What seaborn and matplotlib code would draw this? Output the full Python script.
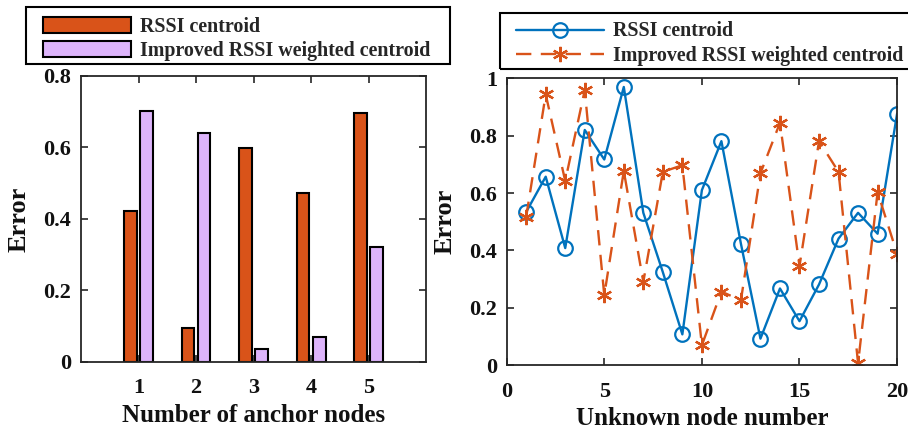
import numpy as np
import pandas as pd
import matplotlib
matplotlib.use("Agg")
import matplotlib.pyplot as plt
import seaborn as sns
from matplotlib.ticker import FuncFormatter
from matplotlib.patches import Rectangle

# ---------------- data ----------------
anchor_nodes = [1, 2, 3, 4, 5]
bar_rssi = [0.423, 0.095, 0.599, 0.472, 0.697]
bar_improved = [0.701, 0.640, 0.035, 0.070, 0.321]

node_numbers = list(range(1, 21))
line_rssi = [0.534, 0.657, 0.408, 0.820, 0.717, 0.970, 0.531, 0.324, 0.107, 0.610,
             0.781, 0.423, 0.092, 0.267, 0.153, 0.281, 0.441, 0.531, 0.458, 0.877]
line_improved = [0.517, 0.944, 0.642, 0.959, 0.243, 0.677, 0.290, 0.674, 0.697, 0.069,
                 0.256, 0.226, 0.669, 0.845, 0.345, 0.781, 0.674, 0.006, 0.603, 0.388]

series_names = ["RSSI centroid", "Improved RSSI weighted centroid"]
left_xlabel = "Number of anchor nodes"
right_xlabel = "Unknown node number"
ylabel = "Error"

# ---------------- style ----------------
sns.set_theme(style="white")
plt.rcParams["font.family"] = ["Liberation Serif", "DejaVu Serif"]
plt.rcParams["font.weight"] = "bold"
plt.rcParams["axes.labelweight"] = "bold"

C_ORANGE = "#D95319"
C_BLUE = "#0072BD"
C_LAV = "#DDB4FB"
SPINE = "#262626"

W, H = 908, 433
fig = plt.figure(figsize=(W / 100, H / 100), dpi=100)
ax1 = fig.add_axes([0.0892, 0.1647, 0.380, 0.6598])
ax2 = fig.add_axes([0.558, 0.157, 0.430, 0.662])

# ---------------- left: grouped bars ----------------
df_bar = pd.DataFrame({
    "anchor": anchor_nodes * 2,
    "error": bar_rssi + bar_improved,
    "method": [series_names[0]] * len(anchor_nodes) + [series_names[1]] * len(anchor_nodes),
})
sns.barplot(data=df_bar, x="anchor", y="error", hue="method", hue_order=series_names,
            native_scale=True, width=0.56, gap=0.2,
            palette=[C_ORANGE, C_LAV], edgecolor="black", linewidth=1.5,
            saturation=1, legend=False, ax=ax1)
ax1.set_xlim(0, 6)
ax1.set_ylim(0, 0.8)
ax1.set_xticks(anchor_nodes)
ax1.set_yticks([0, 0.2, 0.4, 0.6, 0.8])

# ---------------- right: lines ----------------
sns.lineplot(x=node_numbers, y=line_rssi, color=C_BLUE, linewidth=1.7,
             marker="o", markersize=10.5, markerfacecolor="none",
             markeredgecolor=C_BLUE, markeredgewidth=1.6, ax=ax2,
             label=series_names[0], legend=False)
sns.lineplot(x=node_numbers, y=line_improved, color=C_ORANGE, linewidth=1.7,
             marker=(6, 2, 0), markersize=11, markeredgecolor=C_ORANGE,
             markeredgewidth=1.6, dashes=(6.5, 4), ax=ax2,
             label=series_names[1], legend=False)
ax2.set_xlim(0, 20)
ax2.set_ylim(0, 1)
ax2.set_xticks([0, 5, 10, 15, 20])
ax2.set_yticks([0, 0.2, 0.4, 0.6, 0.8, 1])

fmt = FuncFormatter(lambda v, p: f"{v:g}")
for ax, xl in ((ax1, left_xlabel), (ax2, right_xlabel)):
    ax.yaxis.set_major_formatter(fmt)
    ax.xaxis.set_major_formatter(fmt)
    for s in ax.spines.values():
        s.set_visible(True)
        s.set_linewidth(1.3)
        s.set_color(SPINE)
    ax.tick_params(axis="both", which="both", direction="in", length=5, width=1.2,
                   color=SPINE, top=True, right=True, bottom=True, left=True,
                   labelsize=16, labelcolor="#111111")
    ax.tick_params(axis="x", pad=12)
    ax.tick_params(axis="y", pad=7)
    ax.set_xlabel(xl, fontsize=18, fontweight="bold", labelpad=4, color="#111111")
    ax.set_ylabel(ylabel, fontsize=19, fontweight="bold", labelpad=9, color="#111111")
    ax.grid(False)

# ---------------- legends ----------------
leg_kw = dict(frameon=False, borderaxespad=0, borderpad=0, handlelength=4.4,
              handletextpad=0.45, labelspacing=0.2, loc="upper left",
              bbox_transform=fig.transFigure,
              prop={"weight": "bold", "size": 14.4})

leg1 = ax1.legend(ax1.containers, series_names,
                  bbox_to_anchor=(43 / W, 1 - 17 / H), handleheight=0.85, **leg_kw)

h2, _ = ax2.get_legend_handles_labels()
leg2 = ax2.legend(h2, series_names, bbox_to_anchor=(516 / W, 1 - 21.5 / H), **leg_kw)


def frame(x0, y0, x1, y1):
    fig.patches.append(Rectangle((x0 / W, 1 - y1 / H), (x1 - x0) / W, (y1 - y0) / H,
                                 transform=fig.transFigure, fill=False,
                                 edgecolor="black", linewidth=1.5, zorder=5))


frame(26, 7, 450, 64)
frame(500, 12.7, 915, 69)

fig.savefig("out.png", dpi=100)
